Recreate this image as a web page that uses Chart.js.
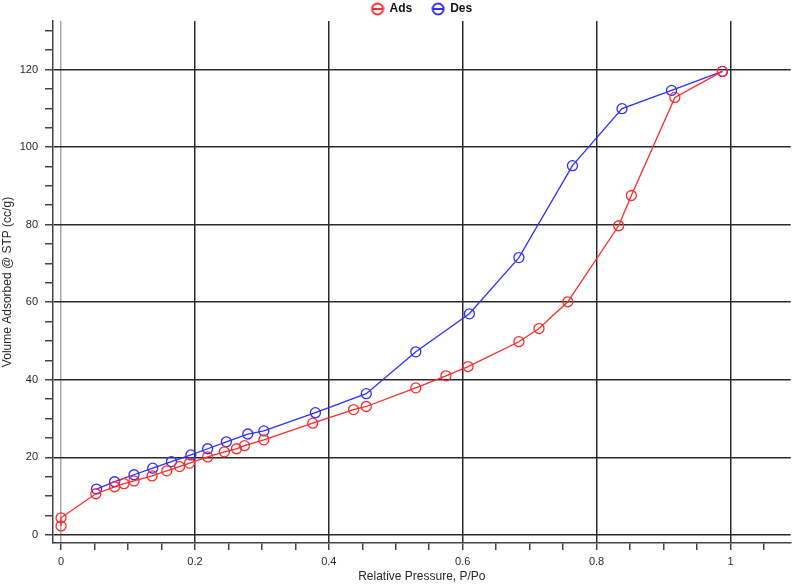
<!DOCTYPE html>
<html>
<head>
<meta charset="utf-8">
<script src="https://cdn.jsdelivr.net/npm/chart.js@4"></script>
<style>
  html, body { margin: 0; padding: 0; background: #fff; }
  #wrap { width: 797px; height: 584px; }
</style>
</head>
<body>
<div id="wrap"><canvas id="iso"></canvas></div>
<script>
// Adsorption branch (P/Po, cc/g)
const adsX = [0, 0, 0.052, 0.080, 0.094, 0.109, 0.136, 0.158, 0.177, 0.192, 0.219, 0.244, 0.262, 0.274, 0.303, 0.376, 0.437, 0.456, 0.530, 0.575, 0.608, 0.684, 0.714, 0.757, 0.833, 0.852, 0.917, 0.988];
const adsY = [2.3, 4.4, 10.6, 12.4, 13.2, 13.9, 15.2, 16.5, 17.6, 18.5, 20.1, 21.4, 22.2, 23.0, 24.5, 28.8, 32.3, 33.1, 37.9, 41.0, 43.4, 49.8, 53.2, 60.1, 79.7, 87.5, 112.8, 119.5];

// Desorption branch, from high to low pressure
const desX = [0.988, 0.912, 0.838, 0.764, 0.684, 0.610, 0.530, 0.456, 0.380, 0.303, 0.279, 0.247, 0.219, 0.194, 0.165, 0.137, 0.109, 0.080, 0.053];
const desY = [119.5, 114.6, 109.9, 95.2, 71.5, 57.0, 47.2, 36.4, 31.5, 26.8, 26.0, 24.0, 22.2, 20.6, 18.9, 17.2, 15.5, 13.7, 11.8];

const xTicks = [0, 0.05, 0.1, 0.15, 0.2, 0.25, 0.3, 0.35, 0.4, 0.45, 0.5, 0.55, 0.6, 0.65, 0.7, 0.75, 0.8, 0.85, 0.9, 0.95, 1, 1.05];
const xLabels = ['0', '', '', '', '0.2', '', '', '', '0.4', '', '', '', '0.6', '', '', '', '0.8', '', '', '', '1', ''];
const yTicks = [0, 5, 10, 15, 20, 25, 30, 35, 40, 45, 50, 55, 60, 65, 70, 75, 80, 85, 90, 95, 100, 105, 110, 115, 120, 125, 130];

const RED = '#ff2a2a';
const BLUE = '#2f2fff';
const GRID = '#2b2b2b';
const FONT = "'Liberation Sans', Arial, sans-serif";
const LEGEND_H = 38; // legend box height, keeps plot top near y=21

const toPoints = (xs, ys) => xs.map((x, i) => ({ x, y: ys[i] }));

// legend marker: open circle with a bar through it
function legendMarker(color) {
  const c = document.createElement('canvas');
  c.width = 14;
  c.height = 14;
  const g = c.getContext('2d');
  g.strokeStyle = color;
  g.lineWidth = 2;
  g.beginPath();
  g.arc(7, 7, 5.5, 0, Math.PI * 2);
  g.stroke();
  g.beginPath();
  g.moveTo(1.5, 7);
  g.lineTo(12.5, 7);
  g.stroke();
  return c;
}

function isMajor(v, step) {
  const k = v / step;
  return Math.abs(k - Math.round(k)) < 1e-6;
}

// legend item spacing is wide, but the box itself should stay short
const legendHeightFix = {
  id: 'legendHeightFix',
  afterInit(chart) {
    const lg = chart.legend;
    if (!lg) return;
    const fit = lg.fit.bind(lg);
    lg.fit = function () {
      fit();
      this.height = LEGEND_H;
    };
  },
};

new Chart(document.getElementById('iso'), {
  type: 'scatter',
  data: {
    datasets: [
      {
        label: 'Ads',
        data: toPoints(adsX, adsY),
        showLine: true,
        borderColor: RED,
        borderWidth: 1.3,
        pointStyle: 'circle',
        pointRadius: 5,
        pointBorderWidth: 1.3,
        pointBackgroundColor: 'rgba(0,0,0,0)',
        pointBorderColor: RED,
      },
      {
        label: 'Des',
        data: toPoints(desX, desY),
        showLine: true,
        borderColor: BLUE,
        borderWidth: 1.3,
        pointStyle: 'circle',
        pointRadius: 5,
        pointBorderWidth: 1.3,
        pointBackgroundColor: 'rgba(0,0,0,0)',
        pointBorderColor: BLUE,
      },
    ],
  },
  plugins: [legendHeightFix],
  options: {
    responsive: true,
    maintainAspectRatio: false,
    animation: false,
    layout: { padding: { top: -17, right: 5, left: 0, bottom: 0 } },
    plugins: {
      tooltip: { enabled: false },
      legend: {
        position: 'top',
        fullSize: false,
        labels: {
          usePointStyle: true,
          boxWidth: 14,
          boxHeight: 14,
          padding: 20,
          color: '#111',
          font: { family: FONT, size: 12, weight: 'bold' },
          generateLabels: (chart) =>
            chart.data.datasets.map((ds, i) => ({
              text: ds.label,
              pointStyle: legendMarker(ds.borderColor),
              fontColor: '#111',
              strokeStyle: ds.borderColor,
              fillStyle: 'rgba(0,0,0,0)',
              lineWidth: 0,
              datasetIndex: i,
            })),
        },
      },
    },
    scales: {
      x: {
        type: 'linear',
        min: -0.012,
        max: 1.09,
        afterBuildTicks: (s) => { s.ticks = xTicks.map((v) => ({ value: v })); },
        afterFit: (s) => { s.height = 41; },
        border: { color: '#444', width: 1.5 },
        grid: {
          lineWidth: 1.5,
          color: (ctx) => {
            const v = ctx.tick ? ctx.tick.value : 0;
            if (!isMajor(v, 0.2)) return 'rgba(0,0,0,0)';
            return v === 0 ? '#a8a8a8' : GRID;
          },
          tickColor: '#444',
          tickLength: 7,
        },
        ticks: {
          color: '#2a2a2a',
          padding: 5,
          maxRotation: 0,
          autoSkip: false,
          font: { family: FONT, size: 11 },
          callback: (v) => {
            const i = xTicks.findIndex((t) => Math.abs(t - v) < 1e-9);
            return i >= 0 ? xLabels[i] : '';
          },
        },
        title: {
          display: true,
          text: 'Relative Pressure, P/Po',
          color: '#2a2a2a',
          padding: { top: 0, bottom: 0 },
          font: { family: FONT, size: 12 },
        },
      },
      y: {
        type: 'linear',
        min: -2.1,
        max: 132.5,
        afterBuildTicks: (s) => { s.ticks = yTicks.map((v) => ({ value: v })); },
        afterFit: (s) => { s.width = 53; },
        border: { color: '#444', width: 1.5 },
        grid: {
          lineWidth: 1.5,
          color: (ctx) => {
            const v = ctx.tick ? ctx.tick.value : 0;
            return isMajor(v, 20) ? GRID : 'rgba(0,0,0,0)';
          },
          tickColor: '#444',
          tickLength: 8,
        },
        ticks: {
          color: '#2a2a2a',
          padding: 7,
          autoSkip: false,
          font: { family: FONT, size: 11 },
          callback: (v) => (isMajor(v, 20) ? String(v) : ''),
        },
        title: {
          display: true,
          text: 'Volume Adsorbed @ STP (cc/g)',
          color: '#2a2a2a',
          padding: { top: 0, bottom: 0 },
          font: { family: FONT, size: 12 },
        },
      },
    },
  },
});
</script>
</body>
</html>
